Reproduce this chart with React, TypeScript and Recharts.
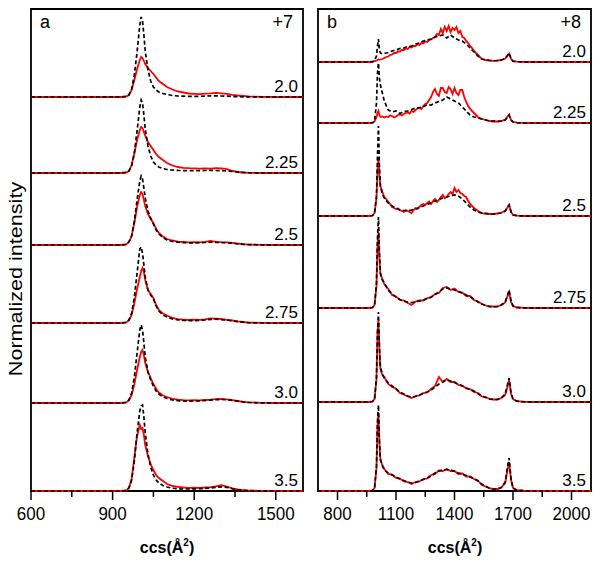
import { LineChart, Line, XAxis, YAxis, ReferenceLine, ReferenceArea } from 'recharts';

// conditions (top to bottom)
const labels = ['2.0', '2.25', '2.5', '2.75', '3.0', '3.5'];

// ---------- panel a (+7) ----------
const ccsA = [600, 700, 800, 900, 930, 950, 960, 970, 980, 990, 1000, 1005, 1010, 1015, 1020, 1030, 1040, 1050, 1060, 1070, 1085, 1100, 1120, 1140, 1160, 1180, 1200, 1220, 1240, 1260, 1280, 1300, 1320, 1340, 1360, 1380, 1400, 1450, 1500, 1550, 1600];
const offsetsA = [394, 318, 246, 168, 88, 0];
const ticksA = [600, 750, 900, 1050, 1200, 1350, 1500];
const majorsA = [600, 900, 1200, 1500];

const blackA20 = [0, 0, 0, 0, 0,
  0.5, 2, 8, 22, 45, 72, 80, 76, 62, 46,
  27, 16, 10, 7, 5, 3.5, 2.5, 1.5, 1, 0.8,
  0.6, 0.6, 0.7, 0.9, 1.1, 1.2, 1.0, 0.8, 0.5, 0.3,
  0.2, 0.1, 0, 0, 0, 0];
const redA20 = [0, 0, 0, 0, 0,
  0.5, 2, 7, 17, 28, 37, 40, 39, 36, 33,
  29, 26, 23, 19.5, 16, 13, 10, 7.5, 5.5, 4.5,
  3.5, 3.2, 2.8, 3.4, 3.6, 4.1, 3.7, 3.1, 2.2, 1.5,
  1.0, 0.6, 0.2, 0, 0, 0];
const blackA225 = [0, 0, 0, 0, 0,
  0.5, 2, 7, 20, 42, 66, 73, 70, 58, 44,
  27, 17, 11, 8, 6, 4.5, 3.5, 3, 2.6, 2.4,
  2.3, 2.3, 2.4, 2.5, 2.6, 2.5, 2.3, 2.0, 1.6, 1.0,
  0.6, 0.3, 0, 0, 0, 0];
const redA225 = [0, 0, 0, 0, 0,
  0.5, 2, 8, 20, 33, 43, 46, 45, 41, 37,
  31, 27, 23, 19, 16, 13, 10, 7.5, 6, 5.2,
  4.8, 4.6, 4.3, 4.7, 4.4, 4.8, 4.5, 3.8, 2.0, 1.0,
  0.5, 0.2, 0, 0, 0, 0];
const blackA25 = [0, 0, 0, 0, 0,
  0.5, 3, 9, 24, 45, 64, 69, 66, 57, 47,
  34, 27, 21, 15, 11, 7.5, 5, 3.5, 2.8, 2.4,
  2.2, 2.2, 2.3, 2.5, 2.8, 2.6, 2.4, 2.2, 1.8, 1.2,
  0.7, 0.4, 0.1, 0, 0, 0];
const redA25 = [0, 0, 0, 0, 0,
  0.5, 3, 9, 22, 38, 50, 53, 51, 45, 39,
  31, 26, 22, 16, 12, 8.5, 6, 4.5, 3.3, 3.0,
  2.6, 2.9, 2.7, 3.1, 4.2, 3.2, 2.8, 2.6, 2.1, 1.4,
  0.8, 0.4, 0.1, 0, 0, 0];
const blackA275 = [0, 0, 0, 0, 0,
  0.5, 3, 10, 26, 50, 74, 76, 70, 58, 46,
  33, 28, 24, 17, 12, 8, 6, 4, 3.2, 2.6,
  2.4, 2.4, 2.6, 3.0, 3.6, 3.8, 3.4, 2.8, 2.2, 1.4,
  0.8, 0.3, 0, 0, 0, 0];
const redA275 = [0, 0, 0, 0, 0,
  0.5, 2.5, 8, 20, 34, 46, 52, 55, 51, 43,
  33, 29, 25, 18, 13, 9.5, 7.5, 5, 3.8, 3.4,
  3.0, 3.3, 3.1, 3.6, 4.6, 4.4, 4.0, 3.2, 2.5, 1.6,
  1.0, 0.4, 0.1, 0, 0, 0];
const blackA30 = [0, 0, 0, 0, 0,
  0.5, 3, 10, 26, 50, 73, 78, 73, 60, 46,
  31, 23, 17, 12, 9, 6, 4.5, 3, 2.4, 2.0,
  1.9, 2.0, 2.2, 2.5, 2.9, 3.3, 3.5, 3.2, 2.6, 1.8,
  1.1, 0.6, 0.1, 0, 0, 0];
const redA30 = [0, 0, 0, 0, 0,
  0.5, 2.5, 8, 19, 33, 46, 51, 53, 48, 40,
  31, 25, 19, 14, 10.5, 7.5, 6, 4.2, 3.3, 2.8,
  2.6, 2.9, 2.7, 3.0, 3.3, 3.9, 4.1, 3.6, 2.9, 2.0,
  1.2, 0.6, 0.1, 0, 0, 0];
const blackA35 = [0, 0, 0, 0, 0,
  0.5, 3, 11, 30, 58, 80, 85, 86, 74, 58,
  37, 24, 16, 11, 8, 5.5, 4, 2.8, 2.2, 2.0,
  2.0, 2.1, 2.3, 2.6, 3.0, 3.6, 4.2, 3.6, 2.4, 1.4,
  0.8, 0.4, 0.1, 0, 0, 0];
const redA35 = [0, 0, 0, 0, 0,
  0.5, 3, 12, 34, 55, 66, 62, 63, 56, 46,
  35, 27, 21, 16, 13, 10, 7, 5, 4.2, 3.5,
  3.2, 3.4, 3.1, 3.5, 3.9, 4.6, 5.8, 4.4, 2.6, 1.5,
  0.9, 0.4, 0.1, 0, 0, 0];

// ---------- panel b (+8) ----------
const ccsB = [700, 800, 900, 960,
  980, 990, 1000, 1005, 1010, 1015, 1020, 1030, 1040,
  1060, 1080, 1100, 1120, 1140, 1160, 1180, 1200, 1220, 1240, 1260, 1280, 1300, 1320, 1340, 1360, 1380, 1400, 1420, 1440, 1460, 1480, 1500, 1520, 1540, 1560, 1580, 1600, 1620, 1640, 1660,
  1670, 1680, 1690, 1700, 1720, 1760, 1800, 1900, 2000, 2100];
// finer grid for the noisy red traces of the low conditions
const ccsBFine = [700, 800, 900, 960, 980, 990, 1000, 1005, 1010, 1015, 1020, 1030,
  1040, 1050, 1060, 1070, 1080, 1090, 1100, 1110, 1120, 1130,
  1140, 1150, 1160, 1170, 1180, 1190, 1200, 1210, 1220, 1230,
  1240, 1250, 1260, 1270, 1280, 1290, 1300, 1310, 1320, 1330,
  1340, 1350, 1360, 1370, 1380, 1390, 1400, 1410, 1420, 1430,
  1440, 1450, 1460, 1470, 1480, 1490, 1500, 1510, 1520, 1530,
  1540, 1550, 1560,
  1580, 1600, 1620, 1640, 1660, 1670, 1680, 1690, 1700, 1720, 1760, 1800, 1900, 2000, 2100];
const offsetsB = [429, 368, 275, 183, 89, 0];
const ticksB = [800, 950, 1100, 1250, 1400, 1550, 1700, 1850, 2000];
const majorsB = [800, 1100, 1400, 1700, 2000];

const blackB20 = [0, 0, 0, 0,
  0.3, 1.5, 6, 16, 23, 12, 9, 8, 8.5,
  9.5, 11, 12, 13.5, 14, 15.5, 16, 18, 19, 21, 22, 23, 25, 26, 27, 24, 27, 24, 22, 21, 18, 14, 10, 6, 3, 2, 1.5, 1.2, 1.5, 2, 3.5,
  6, 9, 3.5, 0.8, 0.3, 0, 0, 0, 0, 0];
const redB20 = [0, 0, 0, 0, 0.2, 0.8, 1.5, 2, 2.5, 2.2, 2.5, 3,
  4, 5, 5.5, 7, 7.5, 9, 9, 10.5, 10.5, 12,
  12, 13.5, 13, 15, 14.5, 16, 16, 17.5, 17, 19,
  18.5, 20.5, 20, 22, 22.5, 24, 25, 28, 27, 33,
  29, 35, 31, 36, 30, 34, 32, 35, 29, 31,
  25, 24, 21, 19, 16, 14, 11, 9, 7, 5,
  3, 2.5, 2,
  1.5, 1.2, 1.5, 2, 3.5, 6, 8.5, 3, 0.8, 0.3, 0, 0, 0, 0, 0];
const blackB225 = [0, 0, 0, 0,
  0.3, 2, 20, 50, 60, 45, 38, 30, 22,
  13, 11, 12, 9.5, 11.5, 12, 13.5, 15, 15.5, 16, 18.5, 18, 20, 21.5, 23, 26, 24, 22, 20, 16, 12, 8, 6, 5, 4, 3, 2, 2, 1.5, 2, 3,
  5, 8, 3, 1, 0.3, 0, 0, 0, 0, 0];
const redB225 = [0, 0, 0, 0, 0.3, 1.5, 6, 10, 12, 8, 6, 6.5,
  5.5, 6.5, 6, 7.5, 7, 5.5, 6.5, 8, 8.5, 7.5,
  9, 10, 10.5, 9.5, 12, 11, 13, 14.5, 15, 14,
  17, 19, 20, 23, 26, 31, 34, 29, 27, 35,
  35, 31, 30, 36, 34, 29, 35, 30, 28, 33,
  33, 26, 21, 17, 14, 12, 10, 8, 6, 5,
  4, 3.5, 3,
  2, 1.5, 1.5, 2, 3.5, 6, 8.5, 3, 1, 0.3, 0, 0, 0, 0, 0];
const blackB25 = [0, 0, 0, 0,
  0.5, 3, 20, 60, 90, 50, 30, 22, 18,
  13, 10, 8, 6, 5.5, 5, 6, 7, 8.5, 10, 11.5, 13, 15, 16.5, 18, 19, 20, 21, 20, 17, 13, 9, 6, 4, 3, 2.5, 2, 2, 2.5, 3, 5,
  8, 11, 4, 1, 0.3, 0, 0, 0, 0, 0];
const redB25 = [0, 0, 0, 0, 0.5, 3, 18, 45, 59, 40, 30, 24,
  19, 17, 14, 12, 9, 8, 7, 7.5, 6, 5,
  4, 6, 5, 4, 3, 6, 8, 7, 9, 11,
  12, 11, 13, 14.5, 12, 15, 17, 14, 16, 19,
  21, 18, 19, 22, 24, 22, 28, 24, 26, 23,
  22, 20, 19, 15, 12, 10, 8, 6.5, 5, 4,
  3, 2.5, 2.5,
  2, 2, 2.5, 3.5, 5, 8, 11, 4, 1, 0.3, 0, 0, 0, 0, 0];
const blackB275 = [0, 0, 0, 0,
  0.5, 3, 25, 70, 91, 55, 35, 28, 25,
  18, 14, 11, 8.5, 7, 6, 5.5, 6, 7, 8, 9.5, 11, 13.5, 16, 19, 20, 19, 18, 16.5, 15, 13, 11, 9, 6, 4, 2.5, 1.5, 1.2, 1.5, 3, 6,
  12, 18, 7, 2, 0.5, 0.2, 0, 0, 0, 0];
const redB275 = [0, 0, 0, 0,
  0.5, 3, 22, 62, 76, 50, 34, 29, 24,
  19, 13, 11.5, 8, 7.5, 5, 3, 6.5, 7.5, 7.5, 10, 10.5, 14, 15, 20, 21, 18, 19.5, 16, 15.5, 12, 12, 8, 6.5, 4, 2.5, 1.5, 1.5, 1.5, 3, 5.5,
  11, 16, 6, 2, 0.5, 0.2, 0, 0, 0, 0];
const blackB30 = [0, 0, 0, 0,
  0.5, 3, 25, 70, 90, 55, 35, 28, 24,
  19, 16, 13, 10, 8, 6, 5, 5.5, 7, 8.5, 10, 12, 15, 18, 20, 22, 21, 19.5, 18, 16, 14, 12.5, 11, 8.5, 6, 4.5, 3, 2.5, 2.5, 4, 8,
  16, 24, 9, 3, 0.8, 0.2, 0, 0, 0, 0];
const redB30 = [0, 0, 0, 0,
  0.5, 3, 23, 68, 82, 52, 33, 27, 25,
  18, 15, 13.5, 9, 7.5, 5.5, 4, 6, 6.5, 9, 9.5, 13, 16, 25, 20, 23, 20, 20, 17, 16.5, 13.5, 13, 10, 9, 5.5, 5, 3, 2.5, 2.5, 4, 7,
  14, 22, 8, 3, 0.8, 0.2, 0, 0, 0, 0];
const blackB35 = [0, 0, 0, 0,
  0.5, 3, 25, 70, 86, 50, 32, 25, 21,
  18, 16, 14, 12, 10.5, 9, 8, 8.5, 10, 11.5, 13, 15, 18, 20, 21, 21.5, 21, 19.5, 18, 17, 15.5, 14, 12.5, 10, 7, 4.5, 3, 2, 2, 3.5, 9,
  22, 33, 12, 3, 0.8, 0.2, 0, 0, 0, 0];
const redB35 = [0, 0, 0, 0,
  0.5, 3, 23, 65, 78, 48, 31, 26, 22,
  17, 16.5, 13, 12.5, 9.5, 9, 7, 9, 9.5, 12, 12.5, 16, 17, 20.5, 20, 22, 20, 20, 17, 17.5, 14.5, 14.5, 12, 10.5, 6, 4.5, 2.5, 2, 2, 3.5, 8,
  19, 29, 11, 3, 0.8, 0.2, 0, 0, 0, 0];

const FONT = '"Liberation Sans", Arial, sans-serif';
const Y_TOP = 482;

interface Trace {
  xs: number[];
  vals: number[];
}

const toPoints = (t: Trace, off: number) => t.xs.map((x, i) => ({ ccs: x, v: off + t.vals[i] }));

const blackTracesA: Trace[] = [blackA20, blackA225, blackA25, blackA275, blackA30, blackA35].map((vals) => ({ xs: ccsA, vals }));
const redTracesA: Trace[] = [redA20, redA225, redA25, redA275, redA30, redA35].map((vals) => ({ xs: ccsA, vals }));
const blackTracesB: Trace[] = [blackB20, blackB225, blackB25, blackB275, blackB30, blackB35].map((vals) => ({ xs: ccsB, vals }));
const redTracesB: Trace[] = [
  { xs: ccsBFine, vals: redB20 },
  { xs: ccsBFine, vals: redB225 },
  { xs: ccsBFine, vals: redB25 },
  { xs: ccsB, vals: redB275 },
  { xs: ccsB, vals: redB30 },
  { xs: ccsB, vals: redB35 },
];

const AxisTick = (props: any) => {
  const { x, y, payload, majors } = props;
  const major = majors.includes(payload.value);
  return (
    <g>
      <line x1={x} x2={x} y1={y} y2={y + (major ? 9 : 6)} stroke="#000" strokeWidth={1.5} />
      {major && (
        <text transform={`translate(${x},${y + 29}) scale(1,1.12)`} textAnchor="middle" fontSize={17} fill="#000">
          {payload.value}
        </text>
      )}
    </g>
  );
};

interface PanelProps {
  black: Trace[];
  red: Trace[];
  offsets: number[];
  domain: [number, number];
  ticks: number[];
  majors: number[];
  width: number;
  left: number;
  right: number;
}

const Panel = ({ black, red, offsets, domain, ticks, majors, width, left, right }: PanelProps) => (
  <LineChart width={width} height={563} margin={{ top: 9, right, bottom: 42, left }}>
    <XAxis
      type="number"
      dataKey="ccs"
      domain={domain}
      ticks={ticks}
      interval={0}
      height={30}
      axisLine={false}
      tickLine={false}
      tickSize={0}
      tickMargin={0}
      allowDuplicatedCategory={false}
      tick={(p: any) => <AxisTick {...p} majors={majors} />}
    />
    <YAxis type="number" domain={[0, Y_TOP]} hide />
    {offsets.map((off, k) => (
      <ReferenceLine
        key={`lbl${k}`}
        y={off}
        stroke="none"
        label={{ value: labels[k], position: 'insideBottomRight', fontSize: 17, fill: '#000' }}
      />
    ))}
    {red.map((t, k) => (
      <Line key={`r${k}`} data={toPoints(t, offsets[k])} type="linear" dataKey="v" stroke="#ff0000" strokeWidth={1.8} dot={false} isAnimationActive={false} />
    ))}
    {black.map((t, k) => (
      <Line key={`k${k}`} data={toPoints(t, offsets[k])} type="linear" dataKey="v" stroke="#000" strokeWidth={1.7} strokeDasharray="4 2.5" dot={false} isAnimationActive={false} />
    ))}
    <ReferenceArea x1={domain[0]} x2={domain[1]} y1={0} y2={Y_TOP} fill="none" stroke="#000" strokeWidth={1.8} ifOverflow="visible" />
  </LineChart>
);

export default function App() {
  return (
    <div style={{ position: 'absolute', left: 0, top: 0, width: 601, height: 563, background: '#fff', fontFamily: FONT }}>
      <div style={{ position: 'absolute', left: 0, top: 0 }}>
        <Panel black={blackTracesA} red={redTracesA} offsets={offsetsA} domain={[600, 1600]} ticks={ticksA} majors={majorsA} width={320} left={31} right={17} />
      </div>
      <div style={{ position: 'absolute', left: 300, top: 0 }}>
        <Panel black={blackTracesB} red={redTracesB} offsets={offsetsB} domain={[700, 2100]} ticks={ticksB} majors={majorsB} width={301} left={18} right={10} />
      </div>
      <svg width={601} height={563} style={{ position: 'absolute', left: 0, top: 0, pointerEvents: 'none' }} fontFamily={FONT}>
        <text x={40} y={28} fontSize={18}>a</text>
        <text x={293} y={28} fontSize={18} textAnchor="end">+7</text>
        <text x={327} y={28} fontSize={18}>b</text>
        <text x={581} y={28} fontSize={18} textAnchor="end">+8</text>
        <text x={167} y={553} fontSize={16} fontWeight="bold" textAnchor="middle">
          ccs(Å<tspan dy={-7} fontSize={10}>2</tspan><tspan dy={7}>)</tspan>
        </text>
        <text x={455} y={553} fontSize={16} fontWeight="bold" textAnchor="middle">
          ccs(Å<tspan dy={-7} fontSize={10}>2</tspan><tspan dy={7}>)</tspan>
        </text>
        <text transform="translate(21.5,279) rotate(-90) scale(1.2,1)" fontSize={18} textAnchor="middle">
          Normalized intensity
        </text>
      </svg>
    </div>
  );
}
